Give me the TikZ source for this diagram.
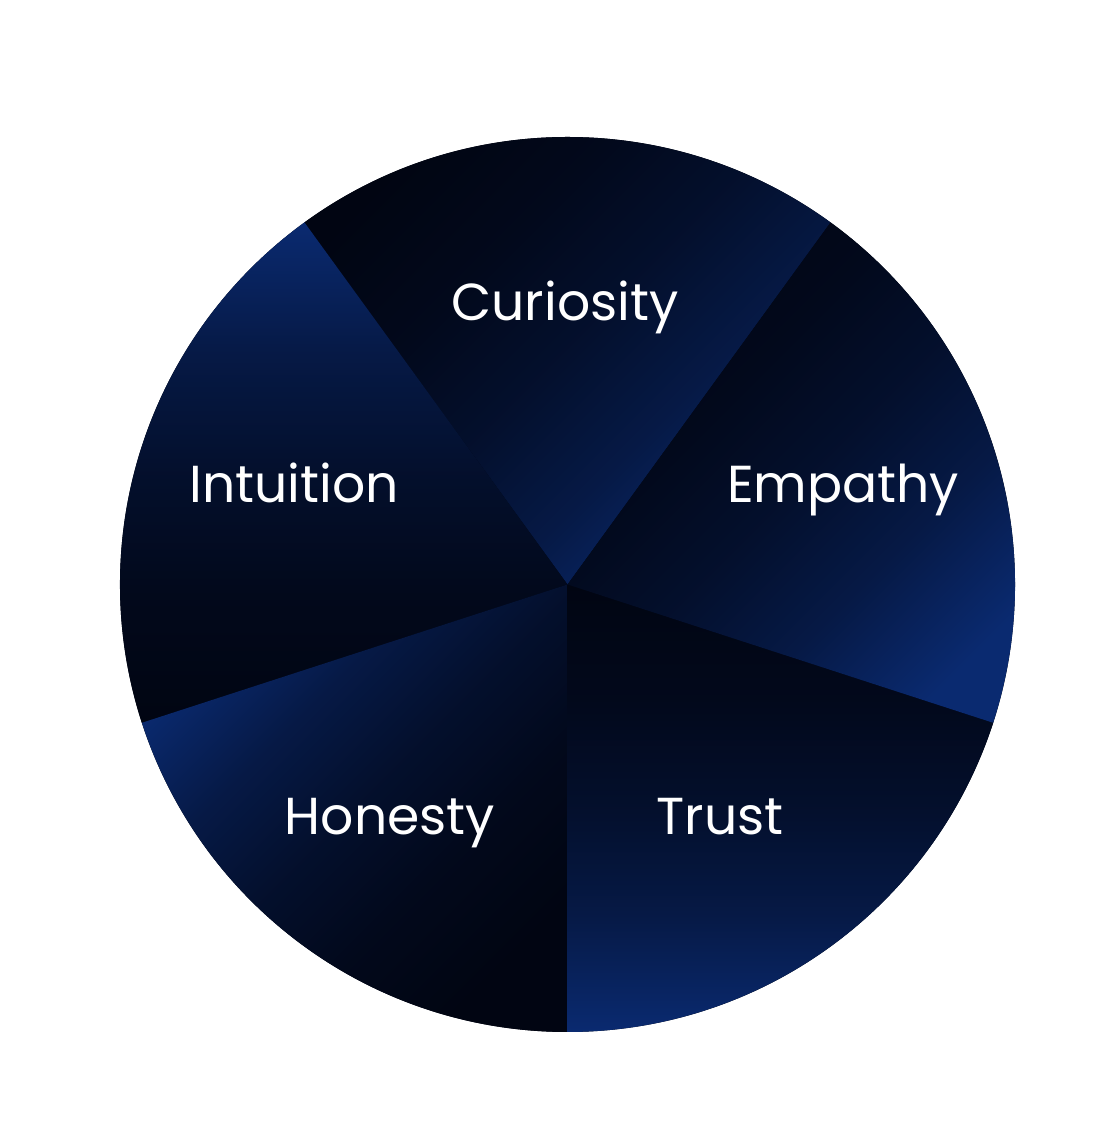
\documentclass[tikz,border=0pt]{standalone}
\usepackage{fontspec}
\setmainfont{Poppins}
\definecolor{wdark}{RGB}{1,5,18}
\definecolor{wblue}{RGB}{10,42,112}
\colorlet{wmA}{wblue!55!wdark}
\colorlet{wmB}{wblue!28!wdark}
\colorlet{wmC}{wblue!10!wdark}
\pgfdeclareverticalshading{wedgeshade}{100bp}{%
  color(0bp)=(wblue); color(25bp)=(wblue); color(38bp)=(wmA);
  color(50bp)=(wmB); color(62bp)=(wmC); color(75bp)=(wdark); color(100bp)=(wdark)}
\tikzset{
  lbl/.style={text=white, anchor=base, inner sep=0pt, font=\fontsize{52}{60}\selectfont},
  wedge/.style={shading=wedgeshade, shading angle=#1},
}
\begin{document}
\begin{tikzpicture}[x=1pt,y=1pt]
\useasboundingbox (0,0) rectangle (1113,1131);
\coordinate (c) at (567.5,546.5);
\def\R{447.5}
\fill[wdark] (c) circle[radius=\R];
% Curiosity 54..126
\shade[wedge=45]
  (c) -- ++(54:\R) arc[start angle=54, end angle=126, radius=\R] -- cycle;
% Intuition 126..198
\shade[wedge=180]
  (c) -- ++(126:\R) arc[start angle=126, end angle=198, radius=\R] -- cycle;
% Honesty 198..270
\shade[wedge=225]
  (c) -- ++(198:\R) arc[start angle=198, end angle=270, radius=\R] -- cycle;
% Trust 270..342
\shade[wedge=0]
  (c) -- ++(270:\R) arc[start angle=270, end angle=342, radius=\R] -- cycle;
% Empathy -18..54
\shade[wedge=45]
  (c) -- ++(-18:\R) arc[start angle=-18, end angle=54, radius=\R] -- cycle;
\node[lbl] (cur) at (565,810) {Curiosity};
\node[lbl] (emp) at (843,628) {Empathy};
\node[lbl] (int) at (294,628) {Intuition};
\node[lbl] (hon) at (390,296) {Honesty};
\node[lbl] (tru) at (720,296) {Trust};
\end{tikzpicture}
\end{document}
